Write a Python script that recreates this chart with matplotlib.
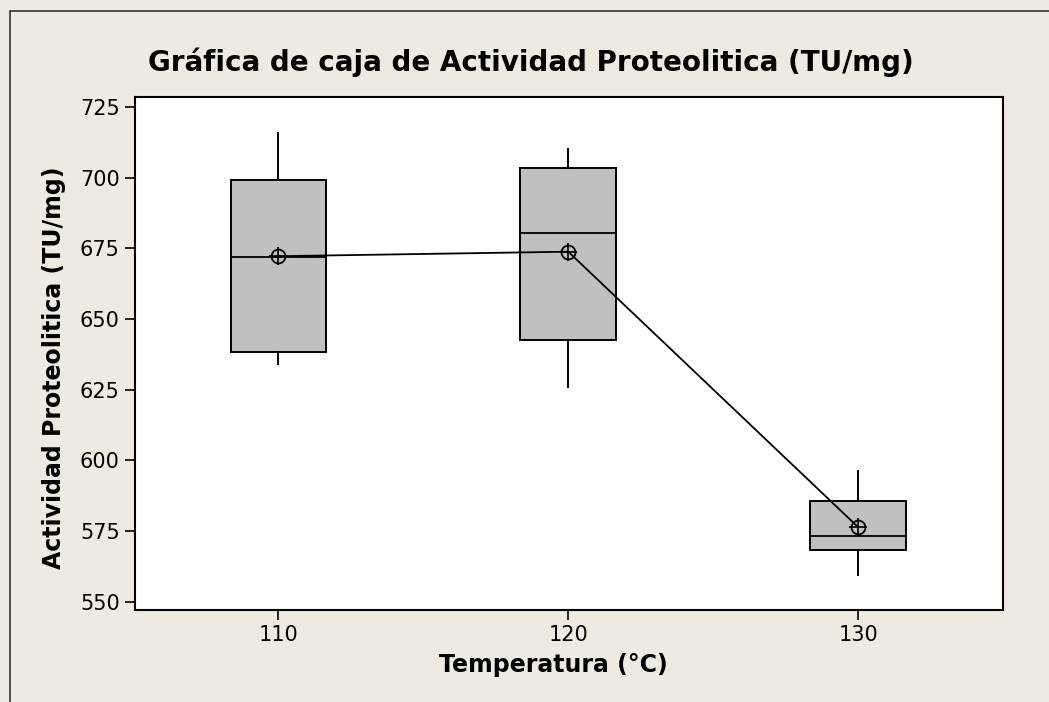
import matplotlib
matplotlib.use("Agg")
import matplotlib.pyplot as plt
from matplotlib.patches import Rectangle

# data (Minitab box plot)
temperatures = [110, 120, 130]
whisker_low = [634.0, 625.8, 559.3]
q1 = [638.4, 642.6, 568.2]
medians = [671.8, 680.3, 573.2]
q3 = [699.0, 703.5, 585.6]
whisker_high = [715.8, 710.1, 596.2]
means = [672.2, 673.8, 576.4]

yticks = [550, 575, 600, 625, 650, 675, 700, 725]

bg = "#EEEAE0"
box_fill = "#C0C0C0"

fig = plt.figure(figsize=(10.49, 7.02), dpi=100, facecolor=bg)
ax = fig.add_axes([135 / 1049, 1 - 610 / 702, (1003 - 135) / 1049, (610 - 97) / 702])
ax.set_facecolor("white")

# outer frame of the graph window
fig.patches.append(Rectangle((10 / 1049, -0.1), 1.2, 1 - 11 / 702 + 0.1,
                             transform=fig.transFigure, fill=False,
                             edgecolor="#333333", linewidth=1.2))

stats = []
for i in range(len(temperatures)):
    stats.append({
        "whislo": whisker_low[i],
        "q1": q1[i],
        "med": medians[i],
        "q3": q3[i],
        "whishi": whisker_high[i],
        "fliers": [],
    })

ax.bxp(stats, positions=temperatures, widths=3.3, patch_artist=True,
       showcaps=False, showfliers=False,
       boxprops=dict(facecolor=box_fill, edgecolor="black", linewidth=1.4),
       medianprops=dict(color="black", linewidth=1.3),
       whiskerprops=dict(color="black", linewidth=1.4))

# mean connect line with circle-cross symbols
ax.plot(temperatures, means, color="black", linewidth=1.3, zorder=4)
ax.plot(temperatures, means, linestyle="none", marker="o", markersize=10,
        markerfacecolor="none", markeredgecolor="black", markeredgewidth=1.3, zorder=5)
ax.plot(temperatures, means, linestyle="none", marker="+", markersize=13,
        markeredgecolor="black", markeredgewidth=1.2, zorder=5)

ax.set_xlim(105.05, 135)
ax.set_ylim(547.1, 728.5)
ax.set_xticks(temperatures)
ax.set_xticklabels([str(t) for t in temperatures])
ax.set_yticks(yticks)

ax.tick_params(direction="out", length=7, width=1.2, colors="black",
               labelsize=15, pad=4)
for s in ax.spines.values():
    s.set_linewidth(1.5)
    s.set_color("black")

ax.set_xlabel("Temperatura (°C)", fontsize=17, fontweight="bold", va="center")
ax.xaxis.set_label_coords(0.4816, -0.107)
ax.set_ylabel("Actividad Proteolitica (TU/mg)", fontsize=17, fontweight="bold", va="center")
ax.yaxis.set_label_coords(-0.0933, 0.472)
fig.text(531 / 1049, 1 - 62 / 702, "Gráfica de caja de Actividad Proteolitica (TU/mg)",
         ha="center", va="center", fontsize=20, fontweight="bold")

fig.savefig("out.png", dpi=100, facecolor=bg)
